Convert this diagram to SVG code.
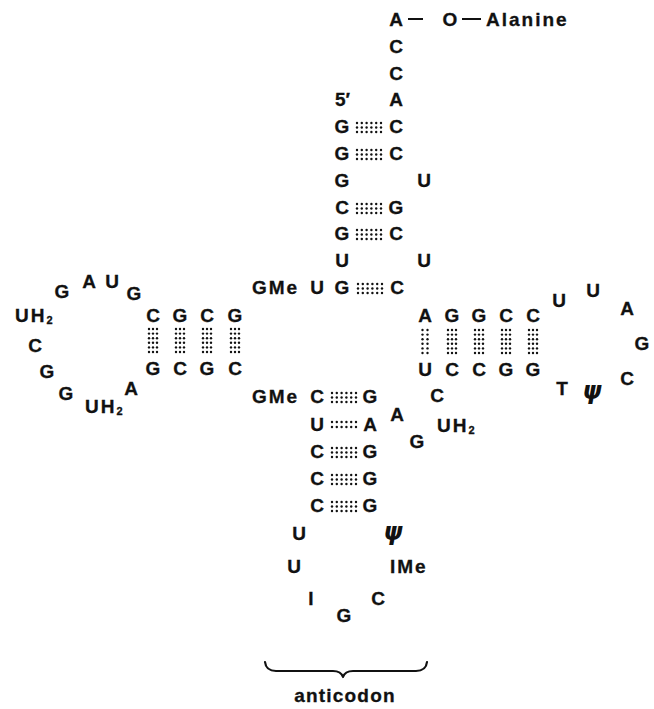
<svg xmlns="http://www.w3.org/2000/svg" xmlns:xlink="http://www.w3.org/1999/xlink" width="654" height="709" viewBox="0 0 654 709">
<style>
  text { font-family: "Liberation Sans", Arial, sans-serif; font-weight: bold; font-size: 19px; fill: #111; stroke: #111; stroke-width: 0.3px; }
  .c { text-anchor: middle; }
  .w { letter-spacing: 2px; }
  .sub { font-size: 11px; }
  .psi { font-family: "DejaVu Sans", sans-serif; font-style: italic; font-size: 24px; text-anchor: middle; stroke-width: 0; }
  .dot { fill: #111; }
  .dash { stroke: #111; stroke-width: 2; }
  .brace { fill: none; stroke: #111; stroke-width: 2.2; stroke-linecap: round; stroke-linejoin: round; }
</style>
<defs>
  <g id="h3">
    <circle class="dot" cx="0" cy="0" r="1.2"/><circle class="dot" cx="4.8" cy="0" r="1.2"/><circle class="dot" cx="9.6" cy="0" r="1.2"/><circle class="dot" cx="14.4" cy="0" r="1.2"/><circle class="dot" cx="19.2" cy="0" r="1.2"/><circle class="dot" cx="24" cy="0" r="1.2"/>
    <circle class="dot" cx="0" cy="4.5" r="1.2"/><circle class="dot" cx="4.8" cy="4.5" r="1.2"/><circle class="dot" cx="9.6" cy="4.5" r="1.2"/><circle class="dot" cx="14.4" cy="4.5" r="1.2"/><circle class="dot" cx="19.2" cy="4.5" r="1.2"/><circle class="dot" cx="24" cy="4.5" r="1.2"/>
    <circle class="dot" cx="0" cy="9" r="1.2"/><circle class="dot" cx="4.8" cy="9" r="1.2"/><circle class="dot" cx="9.6" cy="9" r="1.2"/><circle class="dot" cx="14.4" cy="9" r="1.2"/><circle class="dot" cx="19.2" cy="9" r="1.2"/><circle class="dot" cx="24" cy="9" r="1.2"/>
  </g>
  <g id="h2">
    <circle class="dot" cx="0" cy="0" r="1.2"/><circle class="dot" cx="4.8" cy="0" r="1.2"/><circle class="dot" cx="9.6" cy="0" r="1.2"/><circle class="dot" cx="14.4" cy="0" r="1.2"/><circle class="dot" cx="19.2" cy="0" r="1.2"/><circle class="dot" cx="24" cy="0" r="1.2"/>
    <circle class="dot" cx="0" cy="5" r="1.2"/><circle class="dot" cx="4.8" cy="5" r="1.2"/><circle class="dot" cx="9.6" cy="5" r="1.2"/><circle class="dot" cx="14.4" cy="5" r="1.2"/><circle class="dot" cx="19.2" cy="5" r="1.2"/><circle class="dot" cx="24" cy="5" r="1.2"/>
  </g>
  <g id="v3">
    <circle class="dot" cx="-4" cy="0" r="1.2"/><circle class="dot" cx="0" cy="0" r="1.2"/><circle class="dot" cx="4" cy="0" r="1.2"/>
    <circle class="dot" cx="-4" cy="4.6" r="1.2"/><circle class="dot" cx="0" cy="4.6" r="1.2"/><circle class="dot" cx="4" cy="4.6" r="1.2"/>
    <circle class="dot" cx="-4" cy="9.2" r="1.2"/><circle class="dot" cx="0" cy="9.2" r="1.2"/><circle class="dot" cx="4" cy="9.2" r="1.2"/>
    <circle class="dot" cx="-4" cy="13.8" r="1.2"/><circle class="dot" cx="0" cy="13.8" r="1.2"/><circle class="dot" cx="4" cy="13.8" r="1.2"/>
    <circle class="dot" cx="-4" cy="18.4" r="1.2"/><circle class="dot" cx="0" cy="18.4" r="1.2"/><circle class="dot" cx="4" cy="18.4" r="1.2"/>
    <circle class="dot" cx="-4" cy="23" r="1.2"/><circle class="dot" cx="0" cy="23" r="1.2"/><circle class="dot" cx="4" cy="23" r="1.2"/>
  </g>
  <g id="v2">
    <circle class="dot" cx="-2.5" cy="0" r="1.2"/><circle class="dot" cx="2.5" cy="0" r="1.2"/>
    <circle class="dot" cx="-2.5" cy="4.6" r="1.2"/><circle class="dot" cx="2.5" cy="4.6" r="1.2"/>
    <circle class="dot" cx="-2.5" cy="9.2" r="1.2"/><circle class="dot" cx="2.5" cy="9.2" r="1.2"/>
    <circle class="dot" cx="-2.5" cy="13.8" r="1.2"/><circle class="dot" cx="2.5" cy="13.8" r="1.2"/>
    <circle class="dot" cx="-2.5" cy="18.4" r="1.2"/><circle class="dot" cx="2.5" cy="18.4" r="1.2"/>
    <circle class="dot" cx="-2.5" cy="23" r="1.2"/><circle class="dot" cx="2.5" cy="23" r="1.2"/>
  </g>
</defs>
<rect width="654" height="709" fill="#fff"/>

<g id="acceptor-end">
  <text class="c" x="396" y="26">A</text>
  <line class="dash" x1="408" y1="19" x2="423" y2="19"/>
  <text class="c" x="450" y="26">O</text>
  <line class="dash" x1="462" y1="19" x2="481" y2="19"/>
  <text class="w" x="486" y="26">Alanine</text>
  <text class="c" x="396" y="53">C</text>
  <text class="c" x="396" y="80">C</text>
  <text class="c" x="396" y="106">A</text>
  <text x="335" y="106">5′</text>
</g>

<g id="acceptor-stem">
  <text class="c" x="342" y="133">G</text><text class="c" x="396" y="133">C</text>
  <text class="c" x="342" y="160">G</text><text class="c" x="396" y="160">C</text>
  <text class="c" x="342" y="187">G</text><text class="c" x="424" y="187">U</text>
  <text class="c" x="342" y="214">C</text><text class="c" x="396" y="214">G</text>
  <text class="c" x="342" y="240">G</text><text class="c" x="396" y="240">C</text>
  <text class="c" x="342" y="267">U</text><text class="c" x="424" y="267">U</text>
  <text class="w" x="252" y="294">GMe</text>
  <text class="c" x="317" y="294">U</text>
  <text class="c" x="342" y="294">G</text><text class="c" x="397" y="294">C</text>
</g>

<g id="d-arm">
  <text class="c" x="153" y="322">C</text><text class="c" x="180" y="322">G</text><text class="c" x="207" y="322">C</text><text class="c" x="235" y="322">G</text>
  <text class="c" x="153" y="375">G</text><text class="c" x="180" y="375">C</text><text class="c" x="207" y="375">G</text><text class="c" x="235" y="375">C</text>
  <text class="c" x="62" y="298">G</text>
  <text class="c" x="89" y="288">A</text>
  <text class="c" x="112" y="288">U</text>
  <text class="c" x="134" y="300">G</text>
  <text class="w" x="15" y="322">UH<tspan class="sub" dy="2">2</tspan></text>
  <text class="c" x="35" y="352">C</text>
  <text class="c" x="47" y="378">G</text>
  <text class="c" x="66" y="400">G</text>
  <text class="w" x="85" y="413">UH<tspan class="sub" dy="2">2</tspan></text>
  <text class="c" x="131" y="395">A</text>
</g>

<g id="t-arm">
  <text class="c" x="425" y="322">A</text><text class="c" x="452" y="322">G</text><text class="c" x="479" y="322">G</text><text class="c" x="506" y="322">C</text><text class="c" x="533" y="322">C</text>
  <text class="c" x="425" y="376">U</text><text class="c" x="452" y="376">C</text><text class="c" x="479" y="376">C</text><text class="c" x="506" y="376">G</text><text class="c" x="533" y="376">G</text>
  <text class="c" x="559" y="307">U</text>
  <text class="c" x="593" y="297">U</text>
  <text class="c" x="627" y="315">A</text>
  <text class="c" x="642" y="350">G</text>
  <text class="c" x="627" y="385">C</text>
  <text class="c" x="562" y="395">T</text>
  <text class="psi" x="592" y="399">ψ</text>
</g>

<g id="variable-loop">
  <text class="c" x="437" y="402">C</text>
  <text class="c" x="397" y="421">A</text>
  <text class="c" x="417" y="448">G</text>
  <text class="w" x="437" y="432">UH<tspan class="sub" dy="2">2</tspan></text>
</g>

<g id="anticodon-arm">
  <text class="w" x="252" y="403">GMe</text>
  <text class="c" x="317" y="403">C</text><text class="c" x="370" y="403">G</text>
  <text class="c" x="317" y="431">U</text><text class="c" x="370" y="431">A</text>
  <text class="c" x="317" y="458">C</text><text class="c" x="370" y="458">G</text>
  <text class="c" x="317" y="485">C</text><text class="c" x="370" y="485">G</text>
  <text class="c" x="317" y="512">C</text><text class="c" x="370" y="512">G</text>
  <text class="c" x="299" y="540">U</text>
  <text class="psi" x="393" y="540">ψ</text>
  <text class="c" x="294" y="573">U</text>
  <text class="w" x="390" y="573">IMe</text>
  <text class="c" x="311" y="605">I</text>
  <text class="c" x="378" y="605">C</text>
  <text class="c" x="344" y="622">G</text>
</g>

<g id="connectors">
  <use xlink:href="#h3" x="357" y="123"/>
  <use xlink:href="#h3" x="357" y="150"/>
  <use xlink:href="#h3" x="357" y="204"/>
  <use xlink:href="#h3" x="357" y="230"/>
  <use xlink:href="#h3" x="358" y="284"/>
  <use xlink:href="#v3" x="153" y="329"/>
  <use xlink:href="#v3" x="180" y="329"/>
  <use xlink:href="#v3" x="207" y="329"/>
  <use xlink:href="#v3" x="235" y="329"/>
  <use xlink:href="#v2" x="425" y="330"/>
  <use xlink:href="#v3" x="452" y="330"/>
  <use xlink:href="#v3" x="479" y="330"/>
  <use xlink:href="#v3" x="506" y="330"/>
  <use xlink:href="#v3" x="533" y="330"/>
  <use xlink:href="#h3" x="332" y="393"/>
  <use xlink:href="#h2" x="332" y="422"/>
  <use xlink:href="#h3" x="332" y="448"/>
  <use xlink:href="#h3" x="332" y="475"/>
  <use xlink:href="#h3" x="332" y="502"/>
  <path class="brace" d="M265,662 Q266,671 276,671 L333,671 Q341,671 343,677 Q345,671 353,671 L416,671 Q426,671 427,662"/>
</g>

<g id="label">
  <text class="c" x="345" y="702" style="letter-spacing:1.2px">anticodon</text>
</g>
</svg>
